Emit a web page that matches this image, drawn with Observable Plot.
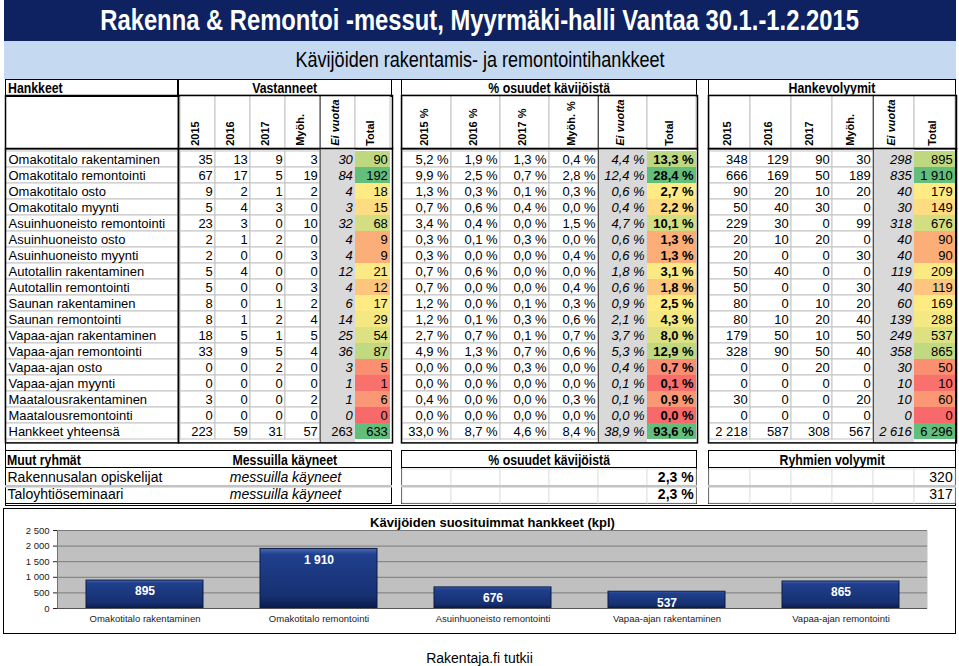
<!DOCTYPE html>
<html><head><meta charset="utf-8">
<script src="https://cdn.jsdelivr.net/npm/d3@7"></script>
<script src="https://cdn.jsdelivr.net/npm/@observablehq/plot@0.6"></script>
<style>
html,body{margin:0;padding:0;background:#fff;}
#root{position:relative;width:959px;height:666px;overflow:hidden;font-family:"Liberation Sans",Arial,sans-serif;color:#000;}
.abs{position:absolute;box-sizing:border-box;}
.nar{display:inline-block;transform:scaleX(0.82);white-space:nowrap;}
</style></head><body><div id="root"></div>
<script>
// ---------- DATA ----------
const mainTitle = "Rakenna & Remontoi -messut, Myyrmäki-halli Vantaa 30.1.-1.2.2015";
const subTitle = "Kävijöiden rakentamis- ja remontointihankkeet";
const blockTitles = ["Hankkeet", "Vastanneet", "% osuudet kävijöistä", "Hankevolyymit"];
const colKeys = ["2015", "2016", "2017", "Myöh.", "Ei vuotta", "Total"];
const vastHeaders = ["2015", "2016", "2017", "Myöh.", "Ei vuotta", "Total"];
const pctHeaders = ["2015 %", "2016 %", "2017 %", "Myöh. %", "Ei vuotta", "Total"];
const volHeaders = ["2015", "2016", "2017", "Myöh.", "Ei vuotta", "Total"];
const rowNames = ["Omakotitalo rakentaminen","Omakotitalo remontointi","Omakotitalo osto","Omakotitalo myynti",
  "Asuinhuoneisto remontointi","Asuinhuoneisto osto","Asuinhuoneisto myynti","Autotallin rakentaminen",
  "Autotallin remontointi","Saunan rakentaminen","Saunan remontointi","Vapaa-ajan rakentaminen",
  "Vapaa-ajan remontointi","Vapaa-ajan osto","Vapaa-ajan myynti","Maatalousrakentaminen",
  "Maatalousremontointi","Hankkeet yhteensä"];
const v2015 = [35,67,9,5,23,2,2,5,5,8,8,18,33,0,0,3,0,223];
const v2016 = [13,17,2,4,3,1,0,4,0,0,1,5,9,0,0,0,0,59];
const v2017 = [9,5,1,3,0,2,0,0,0,1,2,1,5,2,0,0,0,31];
const vMyoh = [3,19,2,0,10,0,3,0,3,2,4,5,4,0,0,2,0,57];
const vEi = [30,84,4,3,32,4,4,12,4,6,14,25,36,3,1,1,0,263];
const vTotal = [90,192,18,15,68,9,9,21,12,17,29,54,87,5,1,6,0,633];
const p2015 = [5.2,9.9,1.3,0.7,3.4,0.3,0.3,0.7,0.7,1.2,1.2,2.7,4.9,0.0,0.0,0.4,0.0,33.0];
const p2016 = [1.9,2.5,0.3,0.6,0.4,0.1,0.0,0.6,0.0,0.0,0.1,0.7,1.3,0.0,0.0,0.0,0.0,8.7];
const p2017 = [1.3,0.7,0.1,0.4,0.0,0.3,0.0,0.0,0.0,0.1,0.3,0.1,0.7,0.3,0.0,0.0,0.0,4.6];
const pMyoh = [0.4,2.8,0.3,0.0,1.5,0.0,0.4,0.0,0.4,0.3,0.6,0.7,0.6,0.0,0.0,0.3,0.0,8.4];
const pEi = [4.4,12.4,0.6,0.4,4.7,0.6,0.6,1.8,0.6,0.9,2.1,3.7,5.3,0.4,0.1,0.1,0.0,38.9];
const pTotal = [13.3,28.4,2.7,2.2,10.1,1.3,1.3,3.1,1.8,2.5,4.3,8.0,12.9,0.7,0.1,0.9,0.0,93.6];
const h2015 = [348,666,90,50,229,20,20,50,50,80,80,179,328,0,0,30,0,2218];
const h2016 = [129,169,20,40,30,10,0,40,0,0,10,50,90,0,0,0,0,587];
const h2017 = [90,50,10,30,0,20,0,0,0,10,20,10,50,20,0,0,0,308];
const hMyoh = [30,189,20,0,99,0,30,0,30,20,40,50,40,0,0,20,0,567];
const hEi = [298,835,40,30,318,40,40,119,40,60,139,249,358,30,10,10,0,2616];
const hTotal = [895,1910,179,149,676,90,90,209,119,169,288,537,865,50,10,60,0,6296];
const otherTitles = ["Muut ryhmät", "Messuilla käyneet", "% osuudet kävijöistä", "Ryhmien volyymit"];
const otherGroups = ["Rakennusalan opiskelijat", "Taloyhtiöseminaari"];
const otherStatus = ["messuilla käyneet", "messuilla käyneet"];
const otherPct = [2.3, 2.3];
const otherVolume = [320, 317];
const chartTitle = "Kävijöiden suosituimmat hankkeet (kpl)";
const topProjects = ["Omakotitalo rakentaminen","Omakotitalo remontointi","Asuinhuoneisto remontointi","Vapaa-ajan rakentaminen","Vapaa-ajan remontointi"];
const topVolumes = [895, 1910, 676, 537, 865];
const yTicks = [0, 500, 1000, 1500, 2000, 2500];
const footer = "Rakentaja.fi tutkii";

// ---------- HELPERS ----------
const root = document.getElementById("root");
const loc = d3.formatLocale({decimal: ",", thousands: "\u00a0", grouping: [3], currency: ["", ""]});
const fmtInt = loc.format(",d");
const fmtPct = v => loc.format(".1f")(v) + "\u00a0%";
const FONT = "'Liberation Sans', Arial, sans-serif";
function box(left, top, w, h, css = {}, html = "") {
  const d = document.createElement("div");
  d.className = "abs";
  Object.assign(d.style, {left: left + "px", top: top + "px", width: w + "px", height: h + "px"}, css);
  d.innerHTML = html;
  root.appendChild(d);
  return d;
}
function mount(node, left, top, width) {
  const w = document.createElement("div");
  w.className = "abs";
  Object.assign(w.style, {left: left + "px", top: top + "px", width: width + "px"});
  w.appendChild(node);
  root.appendChild(w);
}
const baseStyle = {fontFamily: FONT, fontSize: "13px", background: "transparent", overflow: "visible", color: "#000"};

const BX = {L: [5, 178], V: [178, 392], P: [401, 697], H: [708, 956]};
const HEAD_TOP = 95, HEAD_H = 53.3, BODY_TOP = 148.3, BODY_H = 294.4;
const GRID = "#c3c3c3";

// ---------- BANNERS ----------
box(4, 0, 952, 41, {background: "#0e2160", display: "flex", alignItems: "center", justifyContent: "center"},
  `<span class="nar" style="color:#fff;font-weight:bold;font-size:29px;">${mainTitle}</span>`);
box(4, 41, 952, 38, {background: "#c5d9f1", display: "flex", alignItems: "center", justifyContent: "center"},
  `<span class="nar" style="font-size:22px;">${subTitle}</span>`);

// outer frame
box(5, 79, 951, 427, {border: "1.5px solid #000"});

// header row
const hdrCss = {border: "1.5px solid #000", display: "flex", alignItems: "center", fontWeight: "bold", fontSize: "15px", lineHeight: "15px", overflow: "visible"};
[["L", 0], ["V", 1], ["P", 2], ["H", 3]].forEach(([k, i]) => {
  const [a, b] = BX[k];
  const left = k === "L";
  box(a, 79, b - a, 17.5, Object.assign({}, hdrCss, {justifyContent: left ? "flex-start" : "center", paddingLeft: left ? "2px" : "0"}),
    `<span class="nar" style="transform-origin:${left ? "left" : "center"} center">${blockTitles[i]}</span>`);
});

// ---------- MAIN TABLE ----------
function headPlot(labels, width) {
  const bw = width / colKeys.length;
  const lab = d => labels[colKeys.indexOf(d)];
  return Plot.plot({
    width, height: HEAD_H, margin: 0, style: baseStyle,
    x: {type: "band", domain: colKeys, padding: 0, axis: null},
    marks: [
      Plot.cell(colKeys, {x: d => d, fill: "white", stroke: GRID, inset: 0}),
      Plot.ruleX(["Ei vuotta"], {x: d => d, dx: -bw / 2, stroke: "#333"}),
      Plot.text(colKeys.filter(c => c !== "Ei vuotta"), {x: d => d, text: lab, rotate: -90, textAnchor: "start", frameAnchor: "bottom", dy: -3, dx: 1, fontWeight: "bold", fontSize: 11}),
      Plot.text(["Ei vuotta"], {x: d => d, text: lab, rotate: -90, textAnchor: "start", frameAnchor: "bottom", dy: -3, dx: 1, fontWeight: "bold", fontStyle: "italic", fontSize: 11}),
      Plot.frame({stroke: "#000", strokeWidth: 1.5})
    ]
  });
}

function bodyPlot(series, width, {fmt, boldTotal = false, eiTotalItalic = true}) {
  const bw = width / colKeys.length;
  const cells = [];
  rowNames.forEach((r, i) => colKeys.forEach((c, j) => cells.push({row: r, col: c, value: series[j][i], last: i === rowNames.length - 1})));
  const plain = cells.filter(d => d.col !== "Ei vuotta" && d.col !== "Total");
  const ei = cells.filter(d => d.col === "Ei vuotta");
  const tot = cells.filter(d => d.col === "Total");
  const totVals = series[5].slice(0, -1);
  const domain = [d3.min(totVals), d3.median(totVals), d3.max(totVals)];
  return Plot.plot({
    width, height: BODY_H, margin: 0, style: baseStyle,
    x: {type: "band", domain: colKeys, padding: 0, axis: null},
    y: {type: "band", domain: rowNames, padding: 0, axis: null},
    color: {type: "linear", domain, range: ["#f8696b", "#ffeb84", "#63be7b"], interpolate: "rgb", clamp: true},
    marks: [
      Plot.cell(plain, {x: "col", y: "row", fill: "white", stroke: GRID, inset: 0}),
      Plot.cell(["Ei vuotta"], {x: d => d, fill: "#d9d9d9", inset: 0}),
      Plot.cell(tot, {x: "col", y: "row", fill: "value", inset: 0}),
      Plot.ruleX(["Ei vuotta"], {x: d => d, dx: -bw / 2, stroke: "#333"}),
      Plot.text(plain, {x: "col", y: "row", text: d => fmt(d.value), textAnchor: "end", dx: bw / 2 - 3}),
      Plot.text(ei.filter(d => eiTotalItalic || !d.last), {x: "col", y: "row", text: d => fmt(d.value), textAnchor: "end", dx: bw / 2 - 3, fontStyle: "italic"}),
      Plot.text(ei.filter(d => !eiTotalItalic && d.last), {x: "col", y: "row", text: d => fmt(d.value), textAnchor: "end", dx: bw / 2 - 3}),
      Plot.text(tot, {x: "col", y: "row", text: d => fmt(d.value), textAnchor: "end", dx: bw / 2 - 3, fontWeight: boldTotal ? "bold" : "normal"}),
      Plot.frame({stroke: "#000", strokeWidth: 1.5})
    ]
  });
}

// label block
mount(Plot.plot({width: BX.L[1] - BX.L[0], height: HEAD_H, margin: 0, style: baseStyle,
  marks: [Plot.frame({stroke: "#000", strokeWidth: 1.5})]}), BX.L[0], HEAD_TOP, BX.L[1] - BX.L[0]);
mount(Plot.plot({width: BX.L[1] - BX.L[0], height: BODY_H, margin: 0, style: baseStyle,
  y: {type: "band", domain: rowNames, padding: 0, axis: null},
  marks: [
    Plot.cell(rowNames, {y: d => d, fill: "white", stroke: GRID, inset: 0}),
    Plot.text(rowNames, {y: d => d, text: d => d, frameAnchor: "left", textAnchor: "start", dx: 3}),
    Plot.frame({stroke: "#000", strokeWidth: 1.5})
  ]}), BX.L[0], BODY_TOP, BX.L[1] - BX.L[0]);

const blocks = [
  ["V", vastHeaders, [v2015, v2016, v2017, vMyoh, vEi, vTotal], {fmt: fmtInt, eiTotalItalic: false}],
  ["P", pctHeaders, [p2015, p2016, p2017, pMyoh, pEi, pTotal], {fmt: fmtPct, boldTotal: true}],
  ["H", volHeaders, [h2015, h2016, h2017, hMyoh, hEi, hTotal], {fmt: fmtInt}]
];
for (const [k, heads, series, opts] of blocks) {
  const [a, b] = BX[k];
  mount(headPlot(heads, b - a), a, HEAD_TOP, b - a);
  mount(bodyPlot(series, b - a, opts), a, BODY_TOP, b - a);
}

// ---------- OTHER GROUPS ----------
const OT = 450, OH = 18, OROW = 468, OROW_H = 35;
const oBoxes = [[5, 392], BX.P, BX.H];
oBoxes.forEach(([a, b]) => box(a, OT, b - a, 53.5, {border: "1.5px solid #000"}));
oBoxes.forEach(([a, b]) => box(a, OT, b - a, OH, {borderBottom: "1.5px solid #000"}));
box(7, OT, 170, OH, {display: "flex", alignItems: "center", fontWeight: "bold", fontSize: "15px"},
  `<span class="nar" style="transform-origin:left center">${otherTitles[0]}</span>`);
box(178, OT, 214, OH, {display: "flex", alignItems: "center", justifyContent: "center", fontWeight: "bold", fontSize: "15px"},
  `<span class="nar">${otherTitles[1]}</span>`);
box(BX.P[0], OT, BX.P[1] - BX.P[0], OH, {display: "flex", alignItems: "center", justifyContent: "center", fontWeight: "bold", fontSize: "15px"},
  `<span class="nar">${otherTitles[2]}</span>`);
box(BX.H[0], OT, BX.H[1] - BX.H[0], OH, {display: "flex", alignItems: "center", justifyContent: "center", fontWeight: "bold", fontSize: "15px"},
  `<span class="nar">${otherTitles[3]}</span>`);

const others = otherGroups.map((g, i) => ({group: g, status: otherStatus[i], pct: otherPct[i], volume: otherVolume[i]}));
mount(Plot.plot({width: 173, height: OROW_H, margin: 0, style: baseStyle,
  y: {type: "band", domain: otherGroups, padding: 0, axis: null},
  marks: [
    Plot.ruleY(otherGroups.slice(1), {y: d => d, dy: -OROW_H / 4, stroke: GRID, strokeWidth: 2.5}),
    Plot.text(others, {y: "group", text: "group", frameAnchor: "left", textAnchor: "start", dx: 2, fontSize: 14})
  ]}), 5, OROW, 173);
mount(Plot.plot({width: 214, height: OROW_H, margin: 0, style: baseStyle,
  y: {type: "band", domain: otherGroups, padding: 0, axis: null},
  marks: [
    Plot.ruleY(otherGroups.slice(1), {y: d => d, dy: -OROW_H / 4, stroke: GRID, strokeWidth: 2.5}),
    Plot.text(others, {y: "group", text: "status", fontStyle: "italic", fontSize: 14})
  ]}), 178, OROW, 214);
function otherPlot(width, key, fmt, bold) {
  const bw = width / colKeys.length;
  const cells = [];
  otherGroups.forEach(g => colKeys.forEach(c => cells.push({group: g, col: c})));
  return Plot.plot({width, height: OROW_H, margin: 0, style: baseStyle,
    x: {type: "band", domain: colKeys, padding: 0, axis: null},
    y: {type: "band", domain: otherGroups, padding: 0, axis: null},
    marks: [
      Plot.cell(cells, {x: "col", y: "group", fill: "white", stroke: "#e2e2e2", inset: 0}),
      Plot.ruleY(otherGroups.slice(1), {y: d => d, dy: -OROW_H / 4, stroke: GRID, strokeWidth: 2.5}),
      Plot.text(others, {x: () => "Total", y: "group", text: d => fmt(d[key]), textAnchor: "end", dx: bw / 2 - 3, fontSize: 14, fontWeight: bold ? "bold" : "normal"})
    ]});
}
mount(otherPlot(BX.P[1] - BX.P[0], "pct", fmtPct, true), BX.P[0], OROW, BX.P[1] - BX.P[0]);
mount(otherPlot(BX.H[1] - BX.H[0], "volume", fmtInt, false), BX.H[0], OROW, BX.H[1] - BX.H[0]);

// ---------- BAR CHART ----------
box(3, 508, 953, 126, {border: "1.5px solid #000"});
const bars = topProjects.map((p, i) => ({project: p, volume: topVolumes[i]}));
const gradDefs = () => {
  const ns = "http://www.w3.org/2000/svg";
  const defs = document.createElementNS(ns, "defs");
  defs.innerHTML = `<linearGradient id="barGrad" x1="0" y1="0" x2="0" y2="1">
    <stop offset="0" stop-color="#4a6bb8"/><stop offset="0.1" stop-color="#20408e"/>
    <stop offset="0.8" stop-color="#163070"/><stop offset="1" stop-color="#0b1c4d"/></linearGradient>`;
  return defs;
};
mount(Plot.plot({
  width: 953, height: 126, marginLeft: 54, marginRight: 29, marginTop: 22, marginBottom: 26,
  style: Object.assign({}, baseStyle, {fontSize: "9.5px", color: "#222"}),
  x: {type: "band", domain: topProjects, paddingInner: 0.33, paddingOuter: 0.165, label: null, tickSize: 0, tickPadding: 7},
  y: {domain: [0, 2500], ticks: yTicks, tickFormat: fmtInt, label: null, tickSize: 4, tickPadding: 4, line: true},
  marks: [
    gradDefs,
    Plot.frame({fill: "#c0c0c0"}),
    Plot.ruleY(yTicks, {stroke: "#7a7a7a"}),
    Plot.barY(bars, {x: "project", y: "volume", fill: "url(#barGrad)", stroke: "#0a1a44", strokeWidth: 1}),
    Plot.text(bars, {x: "project", y: "volume", text: d => fmtInt(d.volume), dy: 11, fill: "white", fontWeight: "bold", fontSize: 12}),
    Plot.ruleY([0], {stroke: "#555"}),
    Plot.text([chartTitle], {text: d => d, frameAnchor: "top", dy: -13, fontWeight: "bold", fontSize: 13, fill: "#000"})
  ]
}), 3, 508, 953);

// footer
box(0, 649, 959, 18, {display: "flex", alignItems: "center", justifyContent: "center", fontSize: "14px"}, footer);
</script></body></html>
